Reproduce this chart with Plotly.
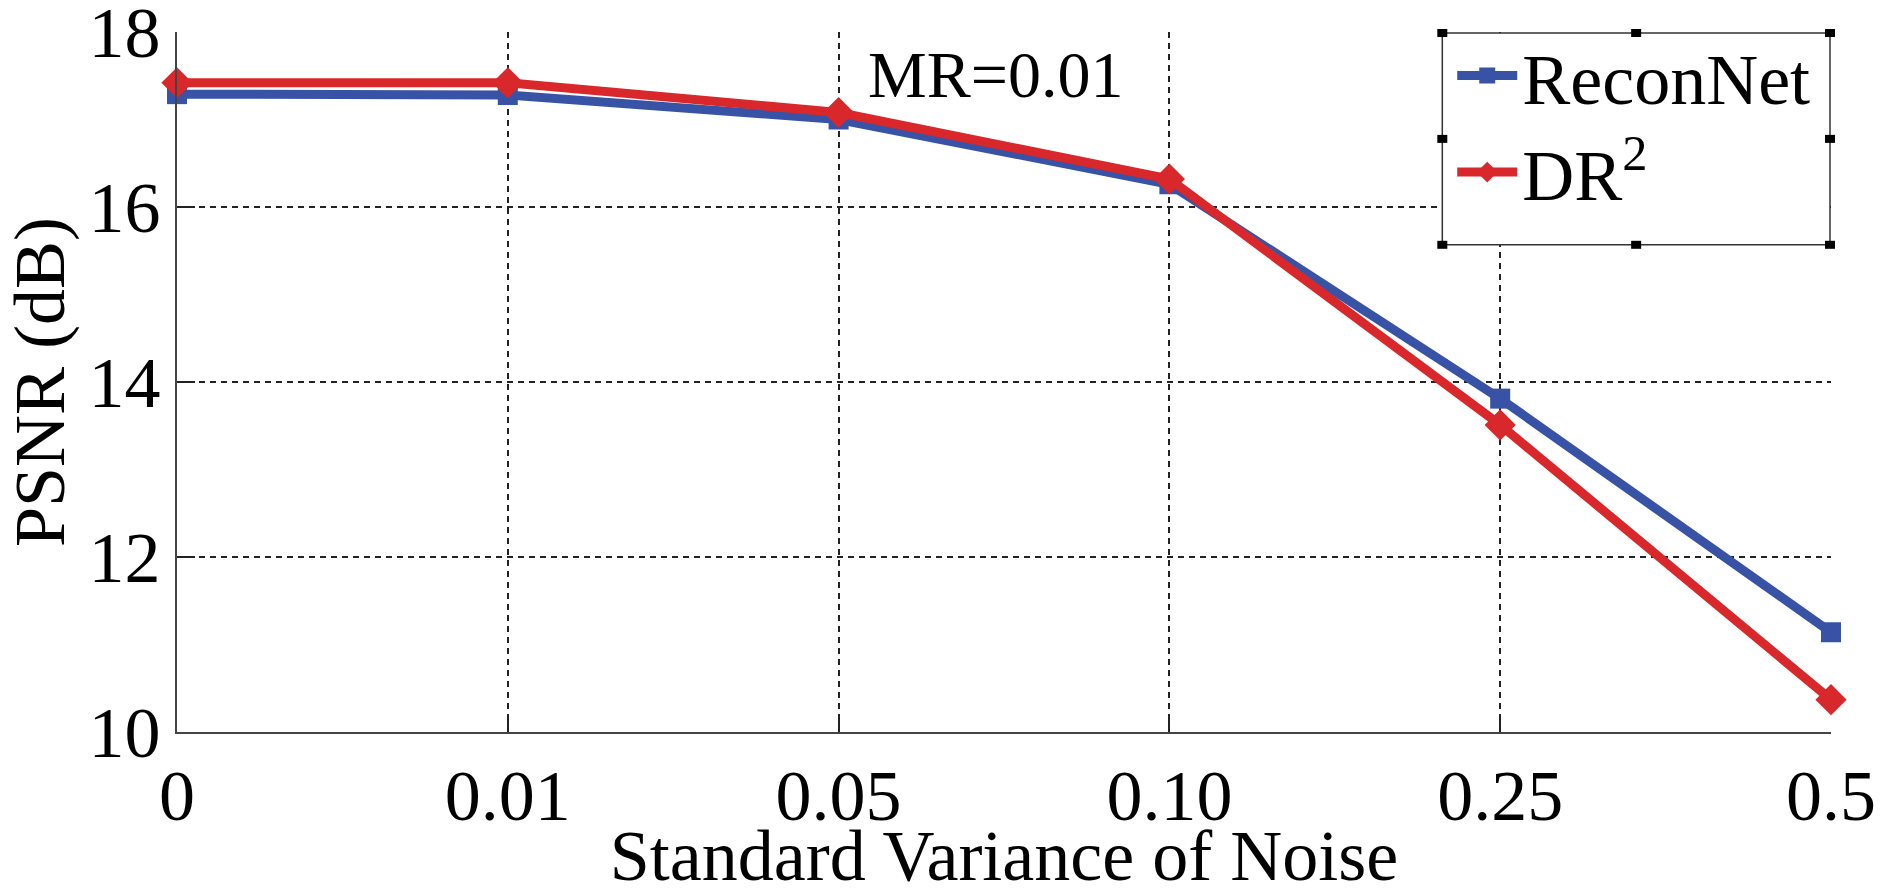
import plotly.graph_objects as go

noise_labels = ["0", "0.01", "0.05", "0.10", "0.25", "0.5"]
reconnet = [17.29, 17.28, 17.0, 16.26, 13.81, 11.14]
dr2 = [17.42, 17.42, 17.08, 16.32, 13.51, 10.37]

xpos = list(range(len(noise_labels)))
FONT = "Liberation Serif, Times New Roman, serif"

fig = go.Figure()
fig.add_trace(go.Scatter(
    x=xpos, y=reconnet, name="ReconNet", mode="lines+markers",
    line=dict(color="#3853A6", width=9),
    marker=dict(symbol="square", size=20, color="#3853A6"),
    cliponaxis=False,
))
fig.add_trace(go.Scatter(
    x=xpos, y=dr2, name="DR<sup>2</sup>", mode="lines+markers",
    line=dict(color="#D9282B", width=9),
    marker=dict(symbol="diamond", size=24, color="#D9282B"),
    cliponaxis=False,
))

fig.add_annotation(
    x=0.495, y=0.94, xref="paper", yref="paper", text="MR=0.01",
    showarrow=False, font=dict(family=FONT, size=66, color="black"),
    xanchor="center", yanchor="middle",
)

# legend box and selection handles
bx0, bx1, by0, by1 = 0.765, 0.9994, 0.696, 0.9986
fig.add_shape(type="rect", xref="paper", yref="paper", x0=bx0, x1=bx1, y0=by0, y1=by1,
              line=dict(color="#333", width=1.5), fillcolor="white", layer="above")
hx = [bx0, (bx0 + bx1) / 2, bx1]
hy = [by0, (by0 + by1) / 2, by1]
for xi, px in enumerate(hx):
    for yi, py in enumerate(hy):
        if xi == 1 and yi == 1:
            continue
        fig.add_shape(type="rect", xref="paper", yref="paper",
                      xsizemode="pixel", ysizemode="pixel", xanchor=px, yanchor=py,
                      x0=-5, x1=5, y0=-4, y1=4, fillcolor="black",
                      line=dict(color="black", width=0), layer="above")

fig.update_layout(
    width=1900, height=896,
    margin=dict(l=177, r=69, t=32, b=164, autoexpand=False),
    paper_bgcolor="white", plot_bgcolor="white",
    font=dict(family=FONT, size=72, color="black"),
    showlegend=True,
    legend=dict(x=0.771, y=1.014, xanchor="left", yanchor="top",
                bgcolor="rgba(0,0,0,0)", borderwidth=0,
                font=dict(family=FONT, size=72, color="black"),
                itemwidth=60, tracegroupgap=0),
)
fig.update_xaxes(
    range=[0, 5], tickmode="array", tickvals=xpos, ticktext=noise_labels,
    showline=True, linecolor="#444", linewidth=2,
    ticks="inside", ticklen=18, tickcolor="#222", tickwidth=1.5,
    showgrid=True, gridcolor="#222", gridwidth=1.5, griddash="6px,5px",
    zeroline=False, mirror=False, ticklabeloverflow="allow", automargin=False,
    title=dict(text="Standard Variance of Noise", font=dict(size=72), standoff=2),
    tickfont=dict(size=72),
)
fig.update_yaxes(
    range=[10, 18], tickmode="array", tickvals=[10, 12, 14, 16, 18],
    ticktext=["10", "12", "14", "16", "18"],
    showline=True, linecolor="#444", linewidth=2,
    ticks="inside", ticklen=18, tickcolor="#222", tickwidth=1.5,
    showgrid=True, gridcolor="#222", gridwidth=1.5, griddash="6px,5px",
    zeroline=False, mirror=False, ticklabeloverflow="allow", automargin=False,
    title=dict(text="PSNR (dB)", font=dict(size=72), standoff=10),
    tickfont=dict(size=72),
)

fig.write_html("out.html")
